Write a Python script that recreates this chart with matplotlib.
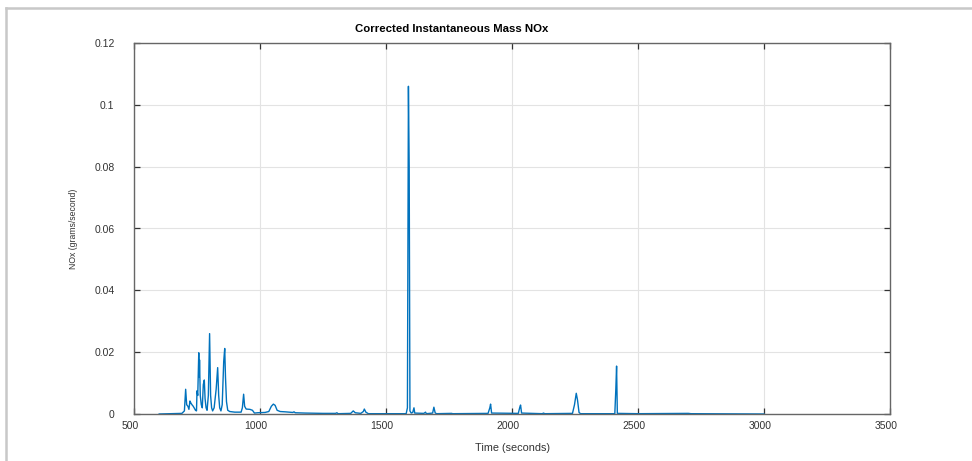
import matplotlib
matplotlib.use("Agg")
import matplotlib.pyplot as plt
import matplotlib.transforms as mtransforms
from matplotlib.lines import Line2D

plt.rcParams['font.family'] = ['Liberation Sans', 'DejaVu Sans']

# --- DATA ---
# Corrected instantaneous NOx mass rate, read off the test log
time_s = [
    600, 690, 700, 705, 709, 714, 718, 722, 726, 730, 735, 740, 744,
    748, 750, 753, 757, 759, 760, 763, 767, 771, 775, 779, 782, 786,
    790, 795, 800, 804, 808, 812, 818, 826, 832, 836, 840, 845, 850,
    856, 860, 863, 867, 872, 880, 900, 925, 930, 935, 939, 945, 960,
    970, 978, 990, 1020, 1035, 1045, 1053, 1060, 1068, 1080, 1100,
    1130, 1135, 1140, 1180, 1250, 1300, 1305, 1310, 1360, 1370, 1378,
    1400, 1410, 1414, 1420, 1430, 1580, 1585, 1589, 1592, 1595, 1600,
    1606, 1611, 1614, 1650, 1657, 1660, 1685, 1690, 1695, 1700, 1760,
    1765, 1905, 1912, 1915, 1919, 2025, 2031, 2034, 2038, 2120, 2125,
    2130, 2240, 2248, 2255, 2260, 2266, 2272, 2408, 2412, 2415, 2418,
    2500, 2700, 2710, 3000,
]
nox_gps = [
    0.0, 0.0002, 0.001, 0.008, 0.003, 0.0025, 0.0015, 0.0042, 0.0035,
    0.003, 0.0025, 0.0018, 0.0012,
    0.001, 0.0075, 0.006, 0.0198, 0.012, 0.0175, 0.006, 0.003, 0.002,
    0.0095, 0.011, 0.005, 0.002,
    0.0012, 0.006, 0.026, 0.006, 0.002, 0.001, 0.002, 0.008, 0.015,
    0.006, 0.002, 0.001, 0.003,
    0.017, 0.0212, 0.012, 0.004, 0.0012, 0.0008, 0.0006, 0.0006, 0.002,
    0.0064, 0.0025, 0.0016, 0.0015,
    0.0012, 0.0003, 0.0004, 0.0005, 0.0008, 0.0025, 0.0032, 0.0028,
    0.0012, 0.0008, 0.0007,
    0.0005, 0.0007, 0.0004, 0.0003, 0.0002, 0.0002, 0.0004, 0.0001,
    0.0002, 0.001, 0.0004,
    0.0002, 0.0008, 0.0016, 0.0006, 0.0001, 0.0001, 0.002, 0.106, 0.08,
    0.001, 0.0003,
    0.0005, 0.002, 0.0003, 0.0002, 0.0006, 0.0001, 0.0003, 0.0022,
    0.0004, 0.0001, 0.0002,
    0.0001, 0.0002, 0.002, 0.0032, 0.0003, 0.0002, 0.0022, 0.0029,
    0.0003, 0.0001, 0.0003,
    0.0001, 0.0002, 0.003, 0.0067, 0.0045, 0.0005, 0.0001, 0.0001,
    0.008, 0.0155, 0.0002,
    0.0001, 0.0002, 0.0001, 0.0,
]

x_ticks = [500, 1000, 1500, 2000, 2500, 3000, 3500]
y_ticks = [0, 0.02, 0.04, 0.06, 0.08, 0.1, 0.12]
y_tick_labels = ["0", "0.02", "0.04", "0.06", "0.08", "0.1", "0.12"]

# --- PLOT ---
fig = plt.figure(figsize=(9.72, 4.61), dpi=100)
ax = fig.add_axes([134 / 972, 47 / 461, 756 / 972, 371 / 461])

ax.plot(time_s, nox_gps, color="#0072BD", linewidth=1.0)

ax.set_xlim(500, 3500)
ax.set_ylim(0, 0.12)
ax.set_xticks(x_ticks)
ax.set_xticklabels([str(t) for t in x_ticks])
ax.set_yticks(y_ticks)
ax.set_yticklabels(y_tick_labels)

ax.grid(True, color="#e3e3e3", linewidth=0.8)
ax.set_axisbelow(True)
ax.tick_params(direction="in", length=4, width=0.9, color="#333333",
               labelcolor="#333333", labelsize=7.5, top=True, right=True)
ax.tick_params(axis="y", pad=14)
ax.tick_params(axis="x", pad=5)
for sp in ax.spines.values():
    sp.set_color("#666666")
    sp.set_linewidth(1.0)

# x tick labels sit a few pixels left of their ticks
shift = mtransforms.ScaledTranslation(-4 / 100, 0, fig.dpi_scale_trans)
for lbl in ax.get_xticklabels():
    lbl.set_transform(lbl.get_transform() + shift)

ax.set_xlabel("Time (seconds)", fontsize=7.8, color="#333333", labelpad=9)
ax.set_ylabel("NOx (grams/second)", fontsize=6.2, color="#333333", labelpad=12)
fig.text(452 / 972, 1 - 29 / 461, "Corrected Instantaneous Mass NOx",
         ha="center", va="center", fontsize=8.2, fontweight="bold")

# light frame along the left and top edges
fig.add_artist(Line2D([6 / 972, 6 / 972], [0, 1 - 8 / 461],
                      transform=fig.transFigure, color="#c8c8c8", lw=1.8))
fig.add_artist(Line2D([6 / 972, 1], [1 - 8 / 461, 1 - 8 / 461],
                      transform=fig.transFigure, color="#c8c8c8", lw=1.8))

fig.savefig("out.png", dpi=100)
